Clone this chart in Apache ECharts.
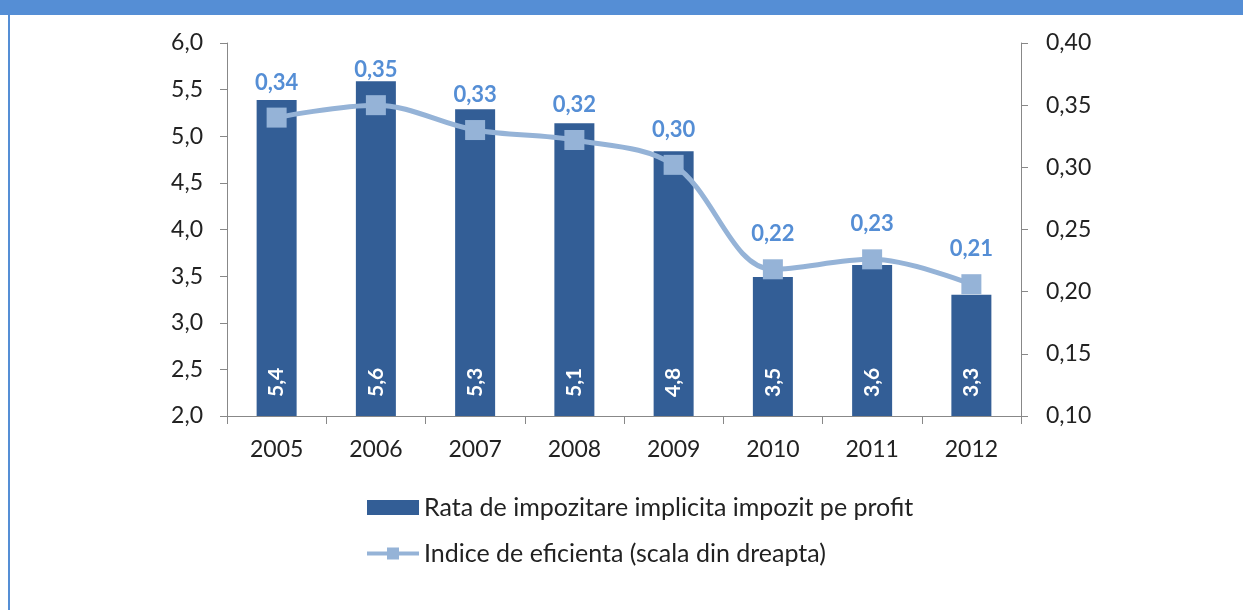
<!DOCTYPE html>
<html><head><meta charset="utf-8">
<script src="https://cdn.jsdelivr.net/npm/echarts@6/dist/echarts.min.js"></script>
<style>html,body{margin:0;padding:0;background:#fff}#c{width:1243px;height:610px}</style>
</head><body><div id="c"></div>
<script>
var years = ['2005','2006','2007','2008','2009','2010','2011','2012'];
var rataValues = [5.39, 5.59, 5.29, 5.14, 4.84, 3.49, 3.62, 3.30];
var indiceValues = [0.340, 0.350, 0.330, 0.322, 0.302, 0.218, 0.226, 0.206];
var leftTicks = {min: 2, max: 6, interval: 0.5};
var rightTicks = {min: 0.10, max: 0.40, interval: 0.05};
var seriesNames = ['Rata de impozitare implicita impozit pe profit', 'Indice de eficienta (scala din dreapta)'];

var FONT = 'Lato';
var chart = echarts.init(document.getElementById('c'));
chart.setOption({
  animation: false,
  backgroundColor: '#fff',
  textStyle: {fontFamily: FONT},
  graphic: [
    {type: 'rect', shape: {x: 0, y: 0, width: 1243, height: 15}, style: {fill: '#558ED5'}},
    {type: 'rect', shape: {x: 8, y: 0, width: 2, height: 610}, style: {fill: '#558ED5'}}
  ],
  grid: {left: 227, right: 222, top: 43, bottom: 194},
  legend: {
    orient: 'vertical', left: 360, top: 490, itemGap: 21,
    itemWidth: 52, itemHeight: 15,
    textStyle: {fontSize: 25, color: '#222', fontFamily: FONT},
    data: [
      {name: seriesNames[0], icon: 'rect'},
      {name: seriesNames[1], lineStyle: {width: 4, color: '#95B3D7'}}
    ]
  },
  xAxis: {
    type: 'category', data: years,
    axisLine: {lineStyle: {color: '#888'}},
    axisTick: {show: true, length: 8, lineStyle: {color: '#888'}},
    axisLabel: {fontSize: 23, color: '#222', margin: 22}
  },
  yAxis: [
    {type: 'value', min: leftTicks.min, max: leftTicks.max, interval: leftTicks.interval,
     splitLine: {show: false},
     axisLine: {show: true, lineStyle: {color: '#888'}},
     axisTick: {show: true, length: 7, lineStyle: {color: '#888'}},
     axisLabel: {fontSize: 23, color: '#222', margin: 24, formatter: function(v){return v.toFixed(1).replace('.',',');}}},
    {type: 'value', min: rightTicks.min, max: rightTicks.max, interval: rightTicks.interval,
     splitLine: {show: false},
     axisLine: {show: true, lineStyle: {color: '#888'}},
     axisTick: {show: true, length: 7, lineStyle: {color: '#888'}},
     axisLabel: {fontSize: 23, color: '#222', margin: 25, formatter: function(v){return v.toFixed(2).replace('.',',');}}}
  ],
  series: [
    {name: seriesNames[0], type: 'bar', yAxisIndex: 0, data: rataValues, barWidth: 40,
     itemStyle: {color: '#335E96'},
     label: {show: true, position: 'insideBottom', rotate: 90, align: 'left', verticalAlign: 'middle',
       distance: 19, color: '#fff', fontWeight: 'bold', fontSize: 21,
       formatter: function(p){return p.value.toFixed(1).replace('.',',');}}},
    {name: seriesNames[1], type: 'line', yAxisIndex: 1, data: indiceValues, smooth: 0.35,
     symbol: 'rect', symbolSize: 20,
     lineStyle: {color: '#95B3D7', width: 5},
     itemStyle: {color: '#95B3D7'},
     label: {show: true, position: 'top', distance: 14, color: '#558ED5', fontWeight: 'bold', fontSize: 22,
       formatter: function(p){return p.value.toFixed(2).replace('.',',');}}}
  ]
});
</script></body></html>
